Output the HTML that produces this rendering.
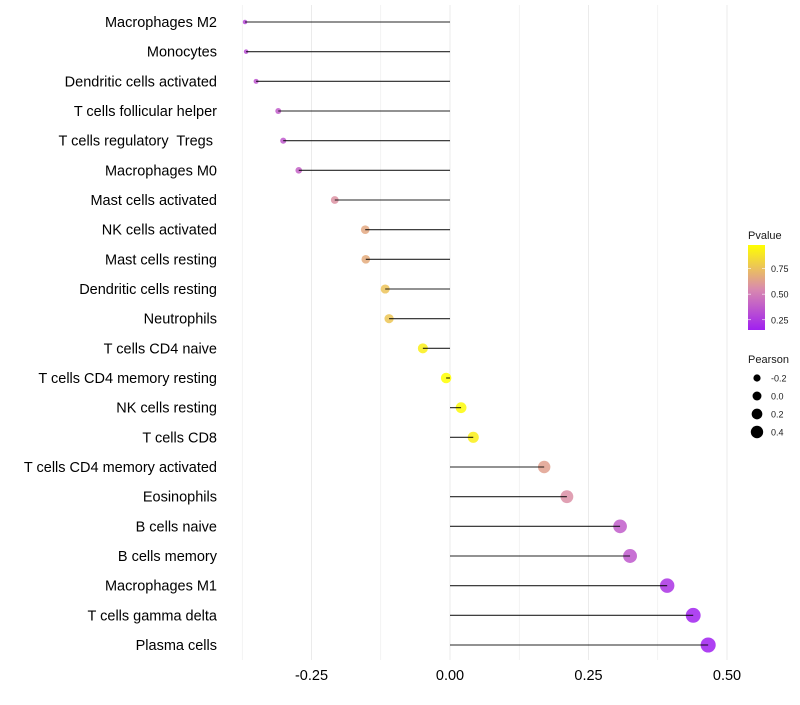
<!DOCTYPE html>
<html><head><meta charset="utf-8"><style>
body{margin:0;background:#fff;font-family:"Liberation Sans",sans-serif}
svg text{font-family:"Liberation Sans",sans-serif}
</style></head><body>
<svg id="chart" width="800" height="700"></svg>
<script>
const categories=["Macrophages M2","Monocytes","Dendritic cells activated","T cells follicular helper","T cells regulatory  Tregs ","Macrophages M0","Mast cells activated","NK cells activated","Mast cells resting","Dendritic cells resting","Neutrophils","T cells CD4 naive","T cells CD4 memory resting","NK cells resting","T cells CD8","T cells CD4 memory activated","Eosinophils","B cells naive","B cells memory","Macrophages M1","T cells gamma delta","Plasma cells"];
const pearson=[-0.370,-0.368,-0.350,-0.310,-0.301,-0.273,-0.208,-0.153,-0.152,-0.117,-0.110,-0.049,-0.007,0.020,0.042,0.170,0.211,0.307,0.325,0.392,0.439,0.466];
const pvalues=[0.30,0.32,0.35,0.38,0.36,0.40,0.58,0.66,0.67,0.76,0.77,0.92,0.98,0.96,0.92,0.63,0.57,0.38,0.36,0.22,0.16,0.15];
const xTicks=[-0.25,0,0.25,0.5];
const xTickLabels=["-0.25","0.00","0.25","0.50"];
const legendSizes=[-0.2,0.0,0.2,0.4];
const legendSizeLabels=["-0.2","0.0","0.2","0.4"];
const pTicks=[0.25,0.5,0.75];
const pTickLabels=["0.25","0.50","0.75"];

const NS="http://www.w3.org/2000/svg";
const svg=document.getElementById('chart');
function mk(t,a,p){const e=document.createElementNS(NS,t);for(const k in a)e.setAttribute(k,a[k]);(p||svg).appendChild(e);return e;}
const x=v=>450+v*554;
const y=i=>22+i*(623/21);
const rad=v=>Math.sqrt(Math.max(2,28+62*v));
function lerp(a,b,t){return a.map((c,i)=>Math.round(c+(b[i]-c)*t));}
const stops=[[0.15,[160,32,240]],[0.55,[217,138,174]],[0.98,[255,255,0]]];
function col(p){p=Math.max(0.15,Math.min(0.98,p));for(let i=0;i<stops.length-1;i++){if(p<=stops[i+1][0]){const t=(p-stops[i][0])/(stops[i+1][0]-stops[i][0]);return 'rgb('+lerp(stops[i][1],stops[i+1][1],t).join(',')+')';}}return 'rgb(255,255,0)';}

const grid=mk('g',{});


for(let v=-0.375;v<=0.5001;v+=0.125){mk('line',{x1:x(v),x2:x(v),y1:5,y2:660,stroke:'#ebebeb','stroke-width':Math.abs(v/0.25-Math.round(v/0.25))<1e-6?1:0.6},grid);}

categories.forEach((c,i)=>{
  const g=mk('g',{});
  
  
  mk('circle',{cx:x(pearson[i]),cy:y(i),r:rad(pearson[i]),fill:col(pvalues[i]),opacity:0.85},g);
  mk('line',{x1:x(0),x2:x(pearson[i]),y1:y(i),y2:y(i),stroke:'#000','stroke-width':1.1,opacity:0.85},g);
  const t=mk('text',{x:217,y:y(i)+5,'text-anchor':'end','font-size':14.5,fill:'#000'});
  t.setAttribute('style','white-space:pre');
  t.textContent=c;
  
  
});
xTicks.forEach((v,i)=>{
  const t=mk('text',{x:x(v),y:680,'text-anchor':'middle','font-size':14.5,fill:'#000'});
  t.textContent=xTickLabels[i];
  
  
});

const lg=mk('g',{});


const tt=mk('text',{x:748,y:239,'font-size':11,fill:'#1a1a1a'},lg);tt.textContent='Pvalue';
const defs=mk('defs',{});const gr=mk('linearGradient',{id:'pg',x1:0,y1:1,x2:0,y2:0},defs);
stops.forEach(s=>mk('stop',{offset:(s[0]-0.15)/0.83,'stop-color':'rgb('+s[1].join(',')+')'},gr));
const pY=p=>330-(p-0.15)/0.83*85;
mk('rect',{x:748,y:245,width:17,height:85,fill:'url(#pg)'},lg);
pTicks.forEach((p,i)=>{
  mk('line',{x1:748,x2:751,y1:pY(p),y2:pY(p),stroke:'#fff','stroke-width':0.6},lg);
  mk('line',{x1:762,x2:765,y1:pY(p),y2:pY(p),stroke:'#fff','stroke-width':0.6},lg);
  const t=mk('text',{x:771,y:pY(p)+3.5,'font-size':9,fill:'#1a1a1a'},lg);t.textContent=pTickLabels[i];
});
const sg=mk('g',{});


const st=mk('text',{x:748,y:363,'font-size':11,fill:'#1a1a1a'},sg);st.textContent='Pearson';
legendSizes.forEach((v,i)=>{
  const cy=378+i*18;
  mk('circle',{cx:757,cy:cy,r:3.6+(v+0.2)/0.6*2.6,fill:'#000'},sg);
  const t=mk('text',{x:771,y:cy+3.5,'font-size':9,fill:'#1a1a1a'},sg);t.textContent=legendSizeLabels[i];
});
</script>
</body></html>
